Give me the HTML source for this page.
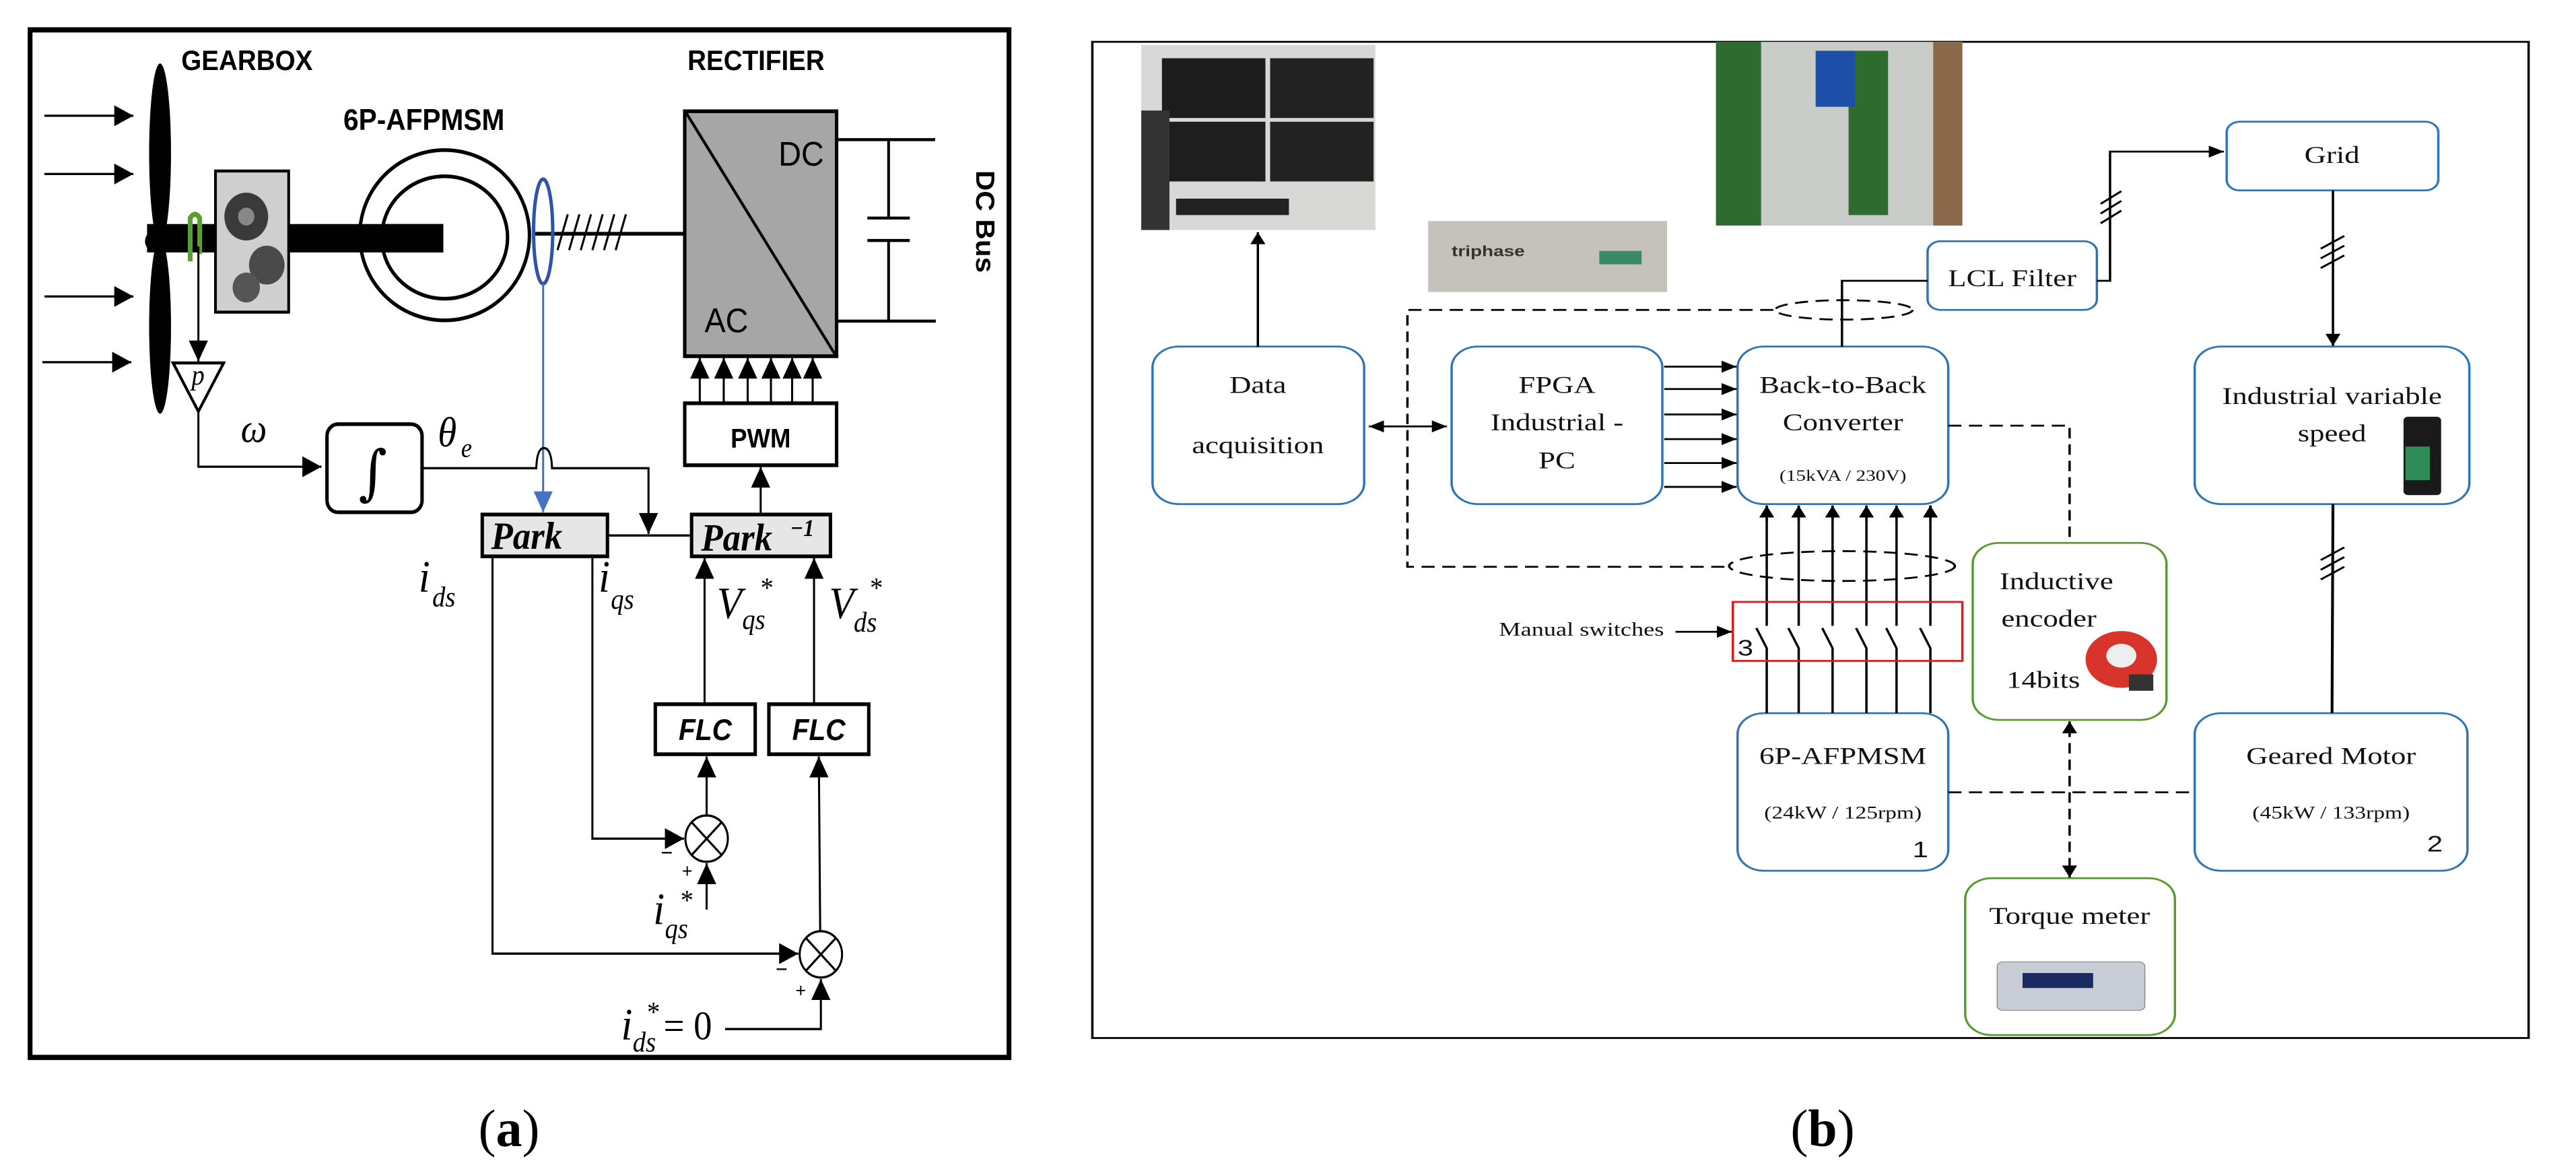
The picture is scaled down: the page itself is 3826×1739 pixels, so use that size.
<!DOCTYPE html>
<html><head><meta charset="utf-8"><style>html,body{margin:0;padding:0;background:#fff}svg{display:block}</style></head>
<body>
<svg width="3826" height="1739" viewBox="0 0 3826 1739" xmlns="http://www.w3.org/2000/svg">
<defs>
<marker id="ah" viewBox="0 0 10 10" refX="10" refY="5" markerWidth="32" markerHeight="28" markerUnits="userSpaceOnUse" orient="auto"><path d="M0,0 L10,5 L0,10 z" fill="#000"/></marker>
<marker id="ahb" viewBox="0 0 10 10" refX="10" refY="5" markerWidth="32" markerHeight="28" markerUnits="userSpaceOnUse" orient="auto"><path d="M0,0 L10,5 L0,10 z" fill="#4472c4"/></marker>
<marker id="as" viewBox="0 0 10 10" refX="10" refY="5" markerWidth="18" markerHeight="16" markerUnits="userSpaceOnUse" orient="auto"><path d="M0,0 L10,5 L0,10 z" fill="#000"/></marker>
<marker id="ass" viewBox="0 0 10 10" refX="0" refY="5" markerWidth="18" markerHeight="16" markerUnits="userSpaceOnUse" orient="auto"><path d="M10,0 L0,5 L10,10 z" fill="#000"/></marker>
</defs>
<rect width="3826" height="1739" fill="#fff"/>

<!-- ===== Panel (a) ===== -->
<g transform="scale(1.016,1.109)" font-family="Liberation Sans, sans-serif">
<rect x="44" y="40" width="1431" height="1376" fill="none" stroke="#000" stroke-width="7"/>
<text x="265" y="94" font-size="38" font-weight="bold">GEARBOX</text>
<text x="1005" y="94" font-size="38" font-weight="bold">RECTIFIER</text>
<text x="502" y="174" font-size="40" font-weight="bold">6P-AFPMSM</text>
<g stroke="#000" stroke-width="3">
<line x1="65" y1="155" x2="195" y2="155" marker-end="url(#ah)"/>
<line x1="65" y1="233" x2="195" y2="233" marker-end="url(#ah)"/>
<line x1="65" y1="397" x2="195" y2="397" marker-end="url(#ah)"/>
<line x1="62" y1="485" x2="192" y2="485" marker-end="url(#ah)"/>
</g>
<ellipse cx="234" cy="205" rx="16" ry="120" fill="#000"/>
<ellipse cx="234" cy="437" rx="16" ry="117" fill="#000"/>
<circle cx="226" cy="323" r="14" fill="#000"/>
<rect x="215" y="300" width="433" height="38" fill="#000"/>
<rect x="315" y="229" width="107" height="189" fill="#cfcfcf" stroke="#000" stroke-width="4"/>
<circle cx="360" cy="290" r="32" fill="#3a3a3a"/><circle cx="360" cy="290" r="12" fill="#888"/>
<circle cx="390" cy="355" r="26" fill="#4a4a4a"/><circle cx="360" cy="385" r="20" fill="#555"/>
<path d="M278,350 L278,292 Q285,282 292,292 L292,340" fill="none" stroke="#5aa02c" stroke-width="7"/>
<ellipse cx="650" cy="315" rx="124" ry="114" fill="none" stroke="#000" stroke-width="5"/>
<ellipse cx="650" cy="318" rx="92" ry="82" fill="none" stroke="#000" stroke-width="5"/>
<rect x="560" y="300" width="88" height="38" fill="#000"/>
<line x1="780" y1="313" x2="1000" y2="313" stroke="#000" stroke-width="5"/>
<g stroke="#000" stroke-width="3"><line x1="815" y1="335" x2="830" y2="287"/><line x1="832" y1="335" x2="847" y2="287"/><line x1="849" y1="335" x2="864" y2="287"/><line x1="866" y1="335" x2="881" y2="287"/><line x1="883" y1="335" x2="898" y2="287"/><line x1="900" y1="335" x2="915" y2="287"/></g>
<ellipse cx="794" cy="310" rx="14" ry="70" fill="none" stroke="#2f55a4" stroke-width="5"/>
<line x1="794" y1="380" x2="794" y2="686" stroke="#4472c4" stroke-width="3" marker-end="url(#ahb)"/>
<rect x="1001" y="149" width="222" height="328" fill="#a6a6a6" stroke="#000" stroke-width="5"/>
<line x1="1003" y1="151" x2="1221" y2="475" stroke="#000" stroke-width="4"/>
<text x="1138" y="222" font-size="46">DC</text>
<text x="1030" y="445" font-size="46">AC</text>
<g stroke="#000" stroke-width="4" fill="none">
<line x1="1224" y1="187" x2="1367" y2="187"/><line x1="1224" y1="430" x2="1368" y2="430"/>
<line x1="1299" y1="187" x2="1299" y2="292"/><line x1="1268" y1="292" x2="1330" y2="292"/>
<line x1="1268" y1="322" x2="1330" y2="322"/><line x1="1299" y1="322" x2="1299" y2="430"/>
</g>
<text transform="translate(1427,228) rotate(90)" font-size="38" font-weight="bold">DC Bus</text>
<g stroke="#000" stroke-width="3">
<line x1="1023" y1="540" x2="1023" y2="479" marker-end="url(#ah)"/>
<line x1="1058" y1="540" x2="1058" y2="479" marker-end="url(#ah)"/>
<line x1="1093" y1="540" x2="1093" y2="479" marker-end="url(#ah)"/>
<line x1="1127" y1="540" x2="1127" y2="479" marker-end="url(#ah)"/>
<line x1="1158" y1="540" x2="1158" y2="479" marker-end="url(#ah)"/>
<line x1="1188" y1="540" x2="1188" y2="479" marker-end="url(#ah)"/>
</g>
<rect x="1001" y="540" width="222" height="83" fill="#fff" stroke="#000" stroke-width="5"/>
<text x="1112" y="599" font-size="36" font-weight="bold" text-anchor="middle">PWM</text>
<line x1="1112" y1="688" x2="1112" y2="625" stroke="#000" stroke-width="3" marker-end="url(#ah)"/>
<line x1="290" y1="330" x2="290" y2="484" stroke="#000" stroke-width="3" marker-end="url(#ah)"/>
<polygon points="253,486 327,486 290,551" fill="#fff" stroke="#000" stroke-width="4"/>
<text x="280" y="515" font-size="38" font-style="italic" font-family="Liberation Serif, serif">p</text>
<polyline points="290,551 290,625 470,625" fill="none" stroke="#000" stroke-width="3" marker-end="url(#ah)"/>
<text x="352" y="592" font-size="54" font-style="italic" font-family="Liberation Serif, serif">ω</text>
<rect x="478" y="568" width="139" height="118" rx="16" fill="#fff" stroke="#000" stroke-width="5"/>
<text x="545" y="660" font-size="80" text-anchor="middle" font-family="DejaVu Serif, serif">∫</text>
<text x="640" y="598" font-size="56" font-style="italic" font-family="Liberation Serif, serif">θ</text>
<text x="674" y="612" font-size="36" font-style="italic" font-family="Liberation Serif, serif">e</text>
<path d="M617,627 L784,627 Q785,600 795,600 Q806,600 807,627 L948,627 L948,715" fill="none" stroke="#000" stroke-width="3" marker-end="url(#ah)"/>
<g font-family="Liberation Serif, serif" font-style="italic" font-weight="bold">
<rect x="705" y="689" width="183" height="56" fill="#e6e6e6" stroke="#000" stroke-width="5"/>
<text x="718" y="735" font-size="52">Park</text>
<line x1="888" y1="717" x2="1010" y2="717" stroke="#000" stroke-width="3"/>
<rect x="1011" y="689" width="203" height="56" fill="#e6e6e6" stroke="#000" stroke-width="5"/>
<text x="1025" y="737" font-size="52">Park</text>
<text x="1155" y="718" font-size="32">−1</text>
</g>
<g font-family="Liberation Serif, serif" font-style="italic">
<text x="612" y="792" font-size="60">i</text><text x="632" y="812" font-size="38">ds</text>
<text x="875" y="792" font-size="60">i</text><text x="893" y="815" font-size="38">qs</text>
<text x="1048" y="828" font-size="60">V</text><text x="1085" y="842" font-size="38">qs</text><text x="1110" y="800" font-size="38">*</text>
<text x="1212" y="828" font-size="60">V</text><text x="1248" y="846" font-size="38">ds</text><text x="1270" y="800" font-size="38">*</text>
<text x="955" y="1237" font-size="60">i</text><text x="972" y="1256" font-size="38">qs</text><text x="993" y="1218" font-size="38">*</text>
<text x="908" y="1392" font-size="60">i</text><text x="925" y="1408" font-size="38">ds</text><text x="944" y="1368" font-size="38">*</text>
</g>
<text x="970" y="1392" font-size="54" font-family="Liberation Serif, serif">= 0</text>
<g stroke="#000" stroke-width="3" fill="none">
<line x1="1030" y1="942" x2="1030" y2="747" marker-end="url(#ah)"/>
<line x1="1190" y1="942" x2="1190" y2="747" marker-end="url(#ah)"/>
<line x1="1033" y1="1092" x2="1033" y2="1013" marker-end="url(#ah)"/>
<polyline points="866,745 866,1123 1000,1123" marker-end="url(#ah)"/>
<line x1="1033" y1="1218" x2="1033" y2="1156" marker-end="url(#ah)"/>
<polyline points="720,745 720,1277 1167,1277" marker-end="url(#ah)"/>
<line x1="1199" y1="1247" x2="1197" y2="1013" marker-end="url(#ah)"/>
<polyline points="1060,1378 1200,1378 1200,1311" marker-end="url(#ah)"/>
</g>
<g font-family="Liberation Sans, sans-serif" font-style="italic" font-weight="bold" font-size="40">
<rect x="958" y="943" width="146" height="67" fill="#fff" stroke="#000" stroke-width="5"/>
<text x="1031" y="991" text-anchor="middle">FLC</text>
<rect x="1124" y="943" width="146" height="67" fill="#fff" stroke="#000" stroke-width="5"/>
<text x="1197" y="991" text-anchor="middle">FLC</text>
</g>
<g stroke="#000" stroke-width="3" fill="#fff">
<circle cx="1033" cy="1123" r="31"/><line x1="1011" y1="1101" x2="1055" y2="1145"/><line x1="1055" y1="1101" x2="1011" y2="1145"/>
<circle cx="1200" cy="1278" r="31"/><line x1="1178" y1="1256" x2="1222" y2="1300"/><line x1="1222" y1="1256" x2="1178" y2="1300"/>
</g>
<text x="966" y="1152" font-size="30">−</text><text x="997" y="1175" font-size="26">+</text>
<text x="1134" y="1308" font-size="30">−</text><text x="1163" y="1335" font-size="26">+</text>
</g>
<text x="756" y="1702" font-size="78" text-anchor="middle" font-family="Liberation Serif, serif">(<tspan font-weight="bold">a</tspan>)</text>

<!-- ===== Panel (b) ===== -->
<g transform="translate(1621,61) scale(1.397,1.109) translate(-15,-57)" font-family="Liberation Serif, serif">
<rect x="16" y="58" width="1527" height="1334" fill="none" stroke="#000" stroke-width="2.5"/>
<rect x="68" y="62" width="249" height="248" fill="#d8d8d6"/>
<rect x="90" y="80" width="110" height="80" fill="#1c1c1c"/><rect x="205" y="80" width="110" height="80" fill="#222"/>
<rect x="90" y="165" width="110" height="80" fill="#1e1e1e"/><rect x="205" y="165" width="110" height="80" fill="#222"/>
<rect x="68" y="150" width="30" height="160" fill="#333"/>
<rect x="105" y="268" width="120" height="22" fill="#222"/>
<rect x="679" y="58" width="262" height="246" fill="#c9ccc9"/>
<rect x="679" y="58" width="48" height="246" fill="#2e6b2e"/><rect x="820" y="70" width="42" height="220" fill="#2e6b2e"/>
<rect x="785" y="70" width="42" height="75" fill="#1d4fa8"/>
<rect x="910" y="58" width="31" height="246" fill="#8a6a4a"/>
<rect x="373" y="298" width="254" height="95" fill="#c4c2bb"/>
<text x="398" y="345" font-size="20" font-family="Liberation Sans, sans-serif" font-weight="bold" fill="#333">triphase</text>
<rect x="555" y="338" width="45" height="18" fill="#3a8a6a"/>
<g fill="#fff" stroke="#2e75b6" stroke-width="2.5">
<rect x="80" y="466" width="225" height="211" rx="28"/>
<rect x="398" y="466" width="224" height="211" rx="28"/>
<rect x="702" y="466" width="224" height="211" rx="28"/>
<rect x="904" y="325" width="180" height="92" rx="14"/>
<rect x="1222" y="165" width="225" height="92" rx="14"/>
<rect x="1188" y="466" width="292" height="211" rx="28"/>
<rect x="1188" y="957" width="290" height="211" rx="28"/>
<rect x="702" y="957" width="224" height="211" rx="28"/>
</g>
<g fill="#fff" stroke="#5a9a32" stroke-width="2.5">
<rect x="952" y="729" width="206" height="237" rx="28"/>
<rect x="944" y="1178" width="223" height="210" rx="28"/>
</g>
<g font-size="32" text-anchor="middle" fill="#111">
<text x="192" y="528">Data</text><text x="192" y="609">acquisition</text>
<text x="510" y="528">FPGA</text><text x="510" y="578">Industrial -</text><text x="510" y="629">PC</text>
<text x="814" y="528">Back-to-Back</text><text x="814" y="578">Converter</text>
<text x="814" y="646" font-size="21">(15kVA / 230V)</text>
<text x="994" y="385">LCL Filter</text>
<text x="1334" y="220">Grid</text>
<text x="1334" y="543">Industrial variable</text><text x="1334" y="593">speed</text>
<text x="1333" y="1025">Geared Motor</text><text x="1333" y="1098" font-size="24">(45kW / 133rpm)</text>
<text x="814" y="1025">6P-AFPMSM</text><text x="814" y="1098" font-size="24">(24kW / 125rpm)</text>
<text x="1041" y="791" >Inductive</text><text x="1033" y="841">encoder</text><text x="1027" y="923">14bits</text>
<text x="1055" y="1239">Torque meter</text>
<text x="536" y="853" font-size="26">Manual switches</text>
</g>
<g font-family="Liberation Sans, sans-serif" font-size="30" fill="#111"><text x="1435" y="1142">2</text><text x="888" y="1150">1</text><text x="702" y="880">3</text></g>
<rect x="1410" y="560" width="40" height="105" rx="5" fill="#1a1a1a"/><rect x="1412" y="600" width="26" height="45" fill="#2e8b57"/>
<circle cx="1110" cy="885" r="38" fill="#d9342b"/><circle cx="1110" cy="880" r="16" fill="#eee"/><rect x="1118" y="905" width="26" height="22" fill="#333"/>
<rect x="978" y="1290" width="157" height="65" rx="6" fill="#c8ccd4" stroke="#888"/><rect x="1005" y="1305" width="75" height="20" fill="#1a2a60"/>
<g stroke="#000" stroke-width="2.5" fill="none">
<line x1="192" y1="466" x2="192" y2="313" marker-end="url(#as)"/>
<line x1="310" y1="573" x2="393" y2="573" marker-start="url(#ass)" marker-end="url(#as)"/>
<line x1="624" y1="493" x2="701" y2="493" marker-end="url(#as)"/>
<line x1="624" y1="523" x2="701" y2="523" marker-end="url(#as)"/>
<line x1="624" y1="557" x2="701" y2="557" marker-end="url(#as)"/>
<line x1="624" y1="590" x2="701" y2="590" marker-end="url(#as)"/>
<line x1="624" y1="622" x2="701" y2="622" marker-end="url(#as)"/>
<line x1="624" y1="654" x2="701" y2="654" marker-end="url(#as)"/>
<polyline points="813,466 813,378 904,378"/>
<polyline points="1084,378 1098,378 1098,205 1219,205" marker-end="url(#as)"/>
<line x1="1335" y1="257" x2="1335" y2="465" marker-end="url(#as)"/>
<line x1="1335" y1="677" x2="1334" y2="957" stroke-width="3"/>
<line x1="636" y1="848" x2="696" y2="848" marker-end="url(#as)"/>
<line x1="1088" y1="275" x2="1110" y2="258"/><line x1="1088" y1="288" x2="1110" y2="271"/><line x1="1088" y1="301" x2="1110" y2="284"/>
<line x1="1322" y1="335" x2="1347" y2="318"/><line x1="1322" y1="348" x2="1347" y2="331"/><line x1="1322" y1="361" x2="1347" y2="344"/>
<line x1="1322" y1="752" x2="1347" y2="735"/><line x1="1322" y1="765" x2="1347" y2="748"/><line x1="1322" y1="778" x2="1347" y2="761"/>
</g>
<g stroke="#000" stroke-width="2.5" fill="none">
<path d="M733,957 V870 L722,843 M733,840 V679"/>
<path d="M767,957 V870 L756,843 M767,840 V679"/>
<path d="M803,957 V870 L792,843 M803,840 V679"/>
<path d="M839,957 V870 L828,843 M839,840 V679"/>
<path d="M871,957 V870 L860,843 M871,840 V679"/>
<path d="M907,957 V870 L896,843 M907,840 V679"/>
</g>
<g stroke="#000" stroke-width="2.5"><g marker-end="url(#as)">
<line x1="733" y1="700" x2="733" y2="679"/><line x1="767" y1="700" x2="767" y2="679"/><line x1="803" y1="700" x2="803" y2="679"/>
<line x1="839" y1="700" x2="839" y2="679"/><line x1="871" y1="700" x2="871" y2="679"/><line x1="907" y1="700" x2="907" y2="679"/></g></g>
<rect x="697" y="808" width="244" height="79" fill="none" stroke="#d42020" stroke-width="2.5"/>
<g stroke="#000" stroke-width="2.5" fill="none" stroke-dasharray="14,8">
<polyline points="740,417 351,417 351,761 693,761"/>
<ellipse cx="815" cy="417" rx="73" ry="13"/>
<ellipse cx="813" cy="760" rx="120" ry="20"/>
<polyline points="926,572 1055,572 1055,729"/>
<line x1="926" y1="1063" x2="1188" y2="1063"/>
<line x1="1055" y1="975" x2="1055" y2="1170"/>
</g>
<g stroke="#000" stroke-width="2.5"><line x1="1055" y1="985" x2="1055" y2="968" marker-end="url(#as)"/><line x1="1055" y1="1160" x2="1055" y2="1177" marker-end="url(#as)"/></g>
</g>
<text x="2707" y="1702" font-size="78" text-anchor="middle" font-family="Liberation Serif, serif">(<tspan font-weight="bold">b</tspan>)</text>
</svg>
</body></html>
